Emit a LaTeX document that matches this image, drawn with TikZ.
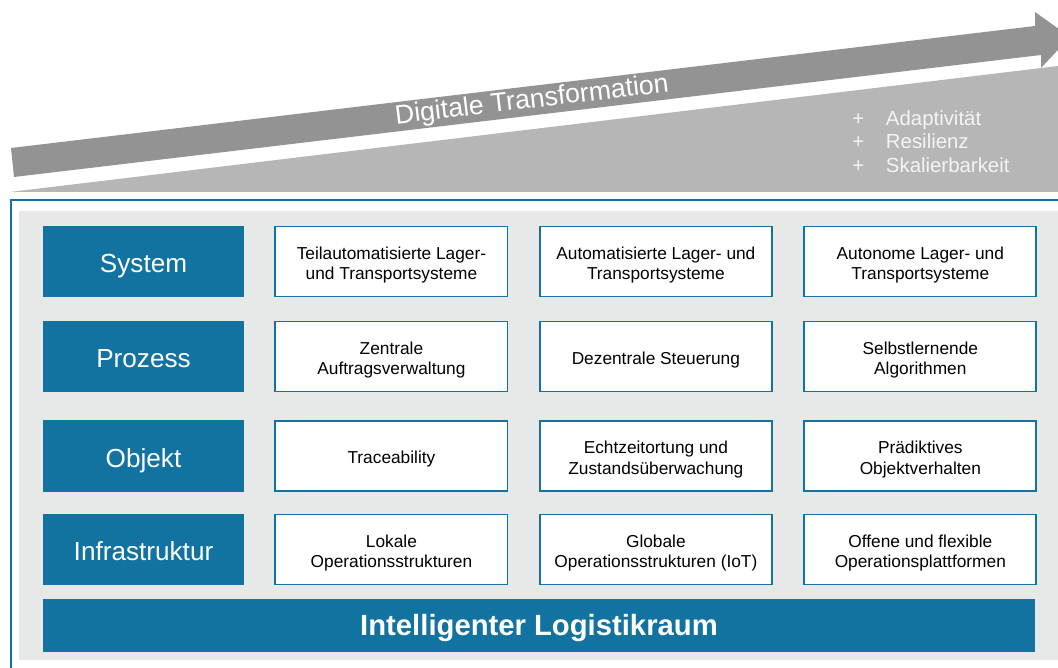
\documentclass[tikz,border=0pt]{standalone}
\usepackage{fontspec}
\setmainfont{Liberation Sans}
\usepackage{xcolor}
\usepackage{tikz}
\usetikzlibrary{positioning}
\definecolor{ipblau}{RGB}{18,115,160}
\definecolor{hgrau}{RGB}{231,232,232}
\definecolor{pfeilgrau}{RGB}{147,147,147}
\definecolor{keilgrau}{RGB}{181,182,181}
\definecolor{hellweiss}{RGB}{244,244,244}

\begin{document}
\begin{tikzpicture}[x=0.025cm,y=-0.025cm,node distance=0.76cm,
                    ebene/.style={rectangle,fill=ipblau,text=white,minimum width=5.025cm,minimum height=1.775cm,
                                  inner sep=0pt,outer sep=0pt,text height=16pt,text depth=0pt,
                                  font=\fontsize{18.6}{22}\selectfont},
                    feld/.style={rectangle,fill=white,draw=ipblau,line width=1.35pt,minimum width=5.8cm,minimum height=1.75cm,
                                 align=center,inner sep=0pt,outer sep=0.7pt,text height=26pt,text depth=0pt,
                                 font=\fontsize{12.3}{14.6}\selectfont},
                    einzeilig/.style={text height=11pt}]

  \useasboundingbox (0,0) rectangle (1058,668);

  \fill[keilgrau] (10,192) -- (1058,66) -- (1062,66) -- (1062,192) -- cycle;
  \fill[pfeilgrau] (11,148) -- (1035,26) -- (1035,12) -- (1070,37) -- (1041,68) -- (1041,55) -- (14,177) -- cycle;
  \node[rotate=6.8,text=white,font=\fontsize{19}{22}\selectfont] (dt) at (532,101) {Digitale Transformation};
  \node[anchor=north west,inner sep=0pt,text=hellweiss,font=\fontsize{14.5}{17}\selectfont] (vorteile) at (852,108)
    {\begin{tabular}{@{}l@{\hspace{15.5pt}}l@{}}+ & Adaptivität\\+ & Resilienz\\+ & Skalierbarkeit\end{tabular}};

  \fill[hgrau] (19,211) rectangle (1070,660);
  \draw[ipblau,line width=1.8pt] (11,680) -- (11,200) -- (1070,200);

  \node[ebene] (sys) at (143.5,261.5) {System};
  \node[ebene] (proz) at (143.5,356.5) {Prozess};
  \node[ebene] (obj) at (143.5,456) {Objekt};
  \node[ebene] (infra) at (143.5,549.5) {Infrastruktur};

  \node[feld] (sys1) [right=of sys] {Teilautomatisierte Lager-\\und Transportsysteme};
  \node[feld] (sys2) [right=of sys1] {Automatisierte Lager- und\\Transportsysteme};
  \node[feld] (sys3) [right=of sys2] {Autonome Lager- und\\Transportsysteme};

  \node[feld] (proz1) [right=of proz] {Zentrale\\Auftragsverwaltung};
  \node[feld,einzeilig] (proz2) [right=of proz1] {Dezentrale Steuerung};
  \node[feld] (proz3) [right=of proz2] {Selbstlernende\\Algorithmen};

  \node[feld,einzeilig] (obj1) [right=of obj] {Traceability};
  \node[feld] (obj2) [right=of obj1] {Echtzeitortung und\\Zustandsüberwachung};
  \node[feld] (obj3) [right=of obj2] {Prädiktives\\Objektverhalten};

  \node[feld] (infra1) [right=of infra] {Lokale\\Operationsstrukturen};
  \node[feld] (infra2) [right=of infra1] {Globale\\Operationsstrukturen (IoT)};
  \node[feld] (infra3) [right=of infra2] {Offene und flexible\\Operationsplattformen};

  \node[ebene,minimum width=24.8cm,minimum height=1.325cm,text height=14.9pt,
        font=\fontsize{20.8}{24}\selectfont\bfseries] (raum) at (539,625.5) {Intelligenter Logistikraum};

\end{tikzpicture}
\end{document}
